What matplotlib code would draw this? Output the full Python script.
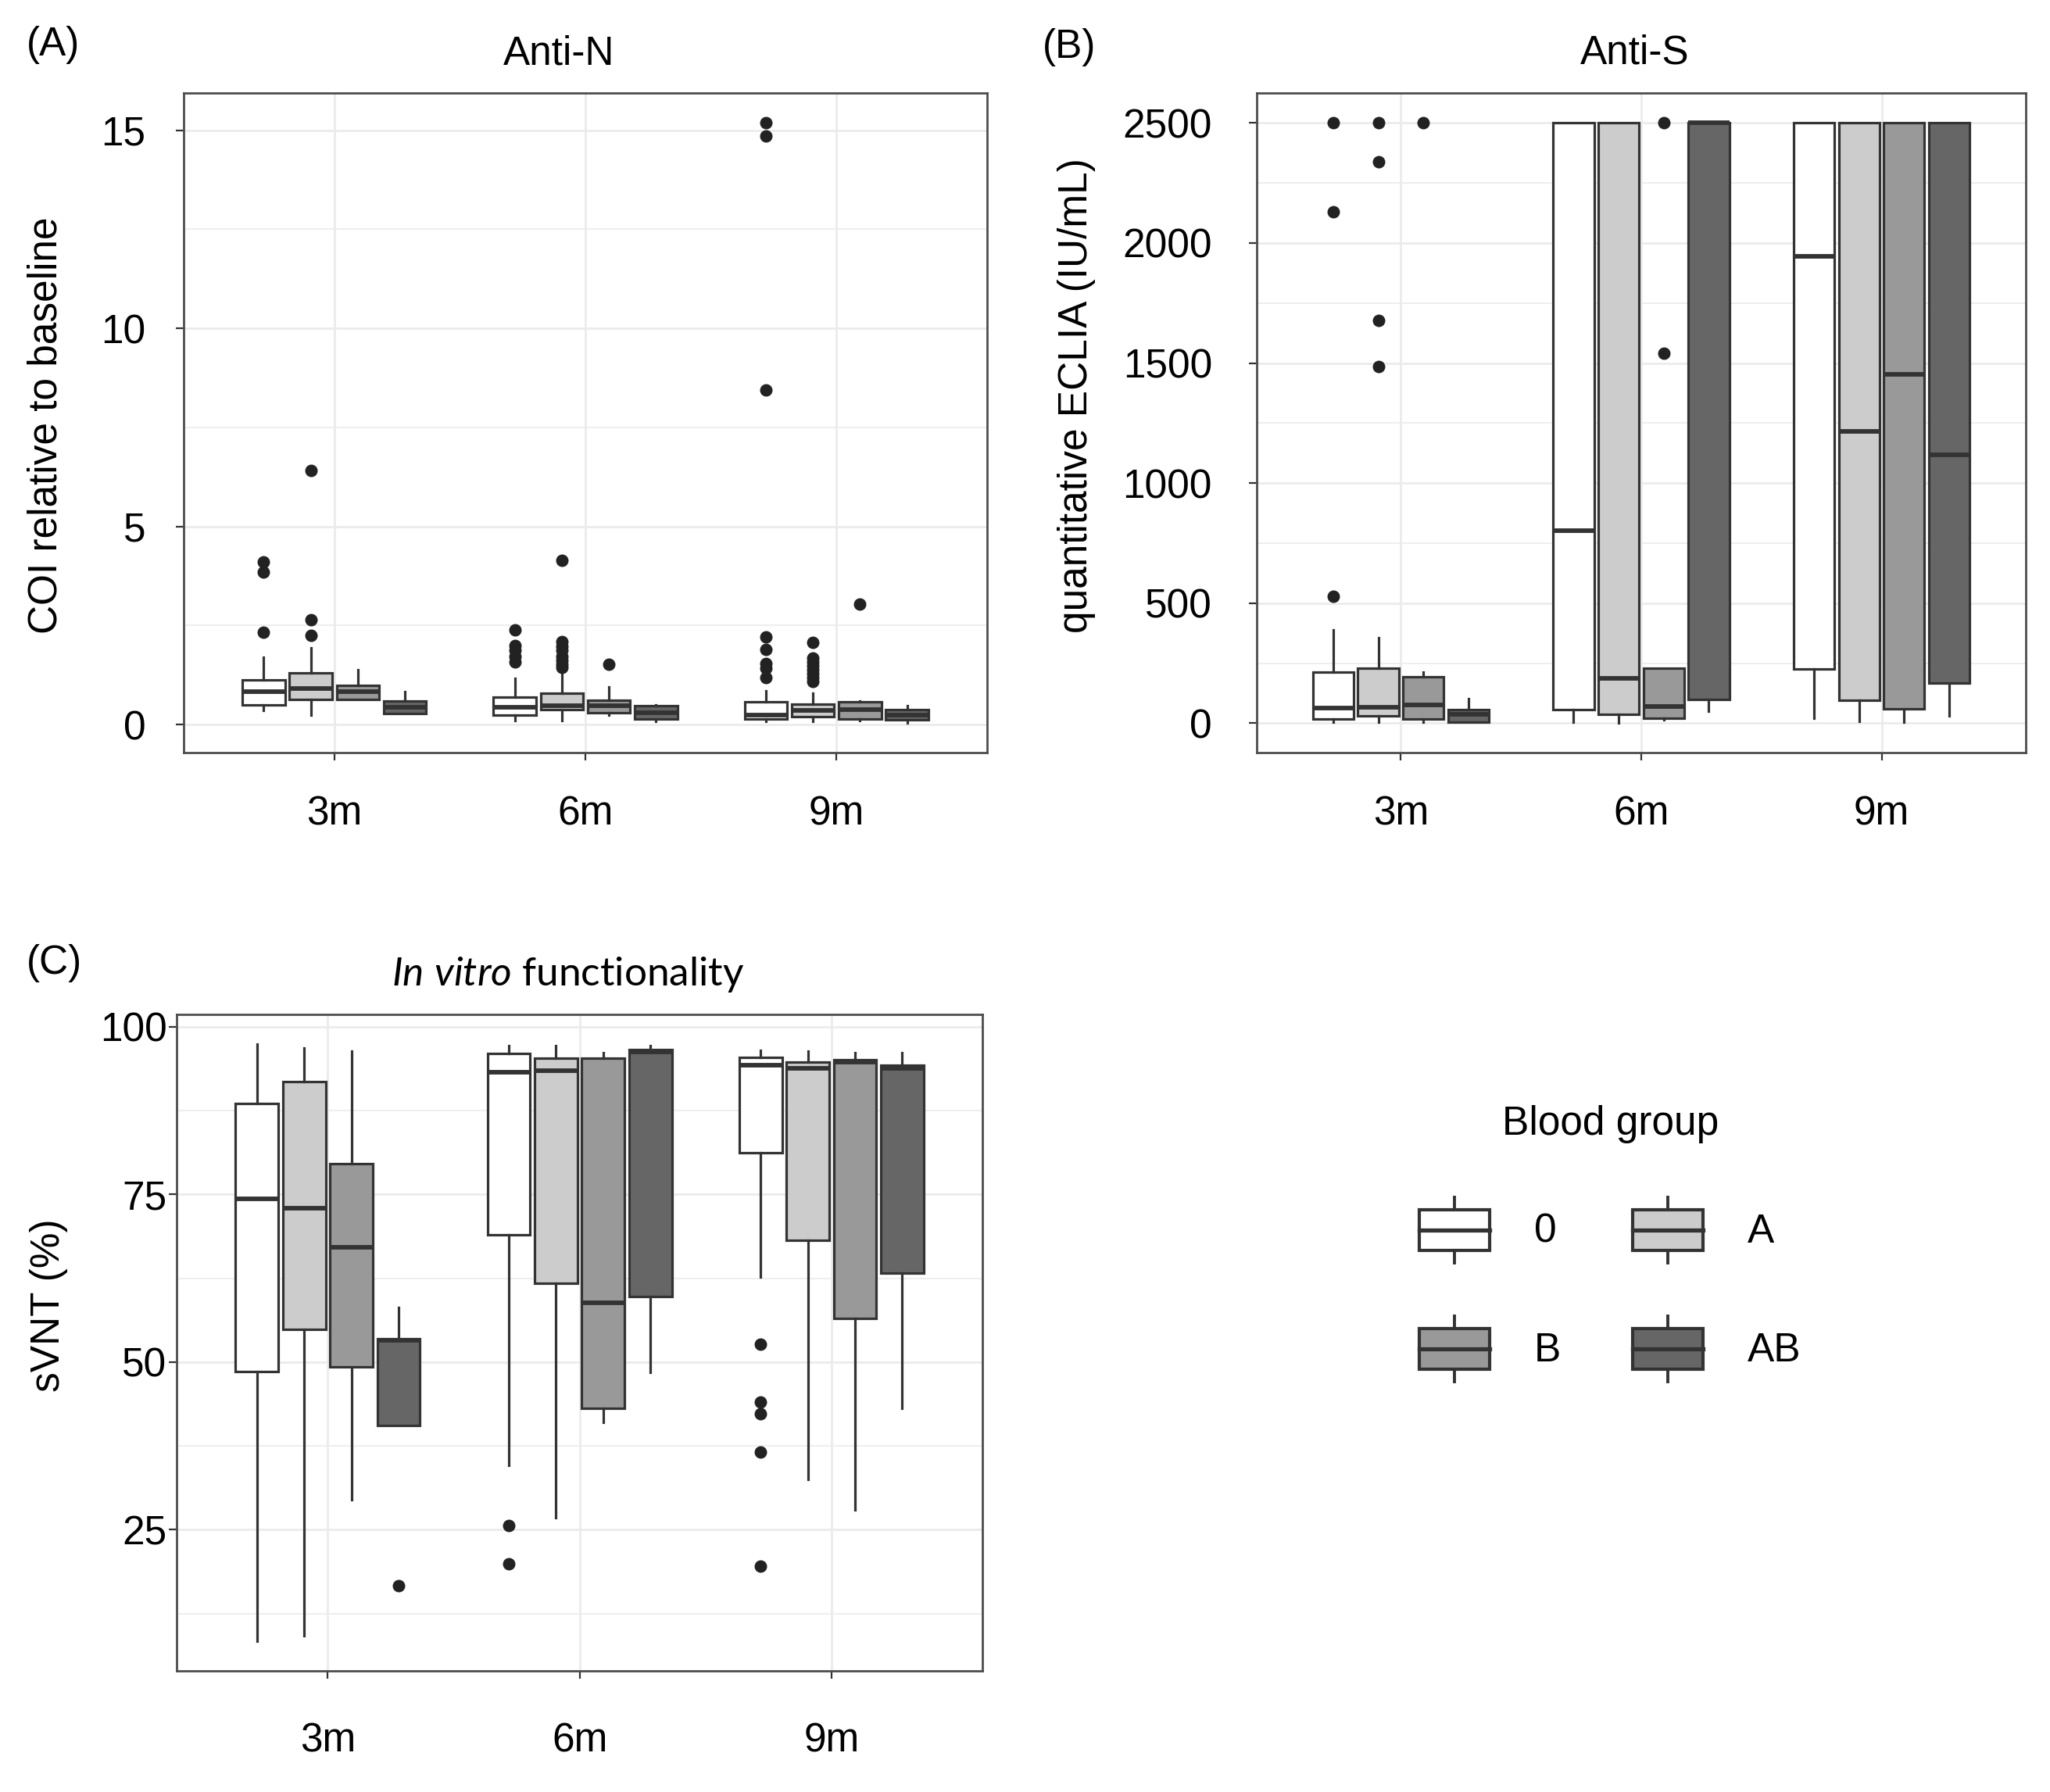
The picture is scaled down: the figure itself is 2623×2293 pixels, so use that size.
import matplotlib
matplotlib.use("Agg")
import matplotlib.pyplot as plt
from matplotlib.patches import Patch, Rectangle
from matplotlib.lines import Line2D
from matplotlib.legend_handler import HandlerBase

plt.rcParams["font.family"] = ["Liberation Sans", "DejaVu Sans"]
plt.rcParams["mathtext.fontset"] = "custom"
plt.rcParams["mathtext.it"] = "Lato:italic"
plt.rcParams["mathtext.rm"] = "Lato"

timepoints = ["3m", "6m", "9m"]
groups = ["0", "A", "B", "AB"]
group_fill = ["#FFFFFF", "#CCCCCC", "#999999", "#666666"]

# Anti-N, COI relative to baseline (rows: timepoint, cols: blood group)
antin_lo = [[0.35, 0.24, 0.64, 0.28], [0.10, 0.10, 0.25, 0.08], [0.08, 0.08, 0.10, 0.05]]
antin_q1 = [[0.50, 0.64, 0.64, 0.28], [0.25, 0.37, 0.31, 0.15], [0.15, 0.20, 0.15, 0.12]]
antin_med = [[0.84, 0.91, 0.83, 0.43], [0.43, 0.48, 0.48, 0.31], [0.25, 0.35, 0.37, 0.25]]
antin_q3 = [[1.12, 1.31, 1.00, 0.59], [0.70, 0.79, 0.61, 0.47], [0.58, 0.52, 0.58, 0.37]]
antin_hi = [[1.71, 1.94, 1.38, 0.84], [1.17, 1.33, 0.96, 0.50], [0.86, 0.80, 0.60, 0.48]]
antin_fliers = [
    [[4.10, 3.85, 2.34], [6.42, 2.64, 2.25], [], []],
    [[2.40, 2.00, 1.88, 1.72, 1.58], [4.15, 2.10, 1.98, 1.88, 1.72, 1.62, 1.52, 1.44], [1.53], []],
    [[15.18, 14.85, 8.45, 2.22, 1.90, 1.55, 1.42, 1.18],
     [2.08, 1.68, 1.58, 1.48, 1.38, 1.28, 1.18, 1.08], [3.04], []],
]

# Anti-S, quantitative ECLIA (IU/mL)
antis_lo = [[4, 4, 4, 5], [5, 2, 15, 49], [22, 9, 4, 31]]
antis_q1 = [[16, 30, 16, 5], [57, 38, 22, 99], [227, 95, 58, 167]]
antis_med = [[64, 66, 77, 38], [802, 187, 68, 2500], [1945, 1216, 1453, 1118]]
antis_q3 = [[214, 229, 192, 55], [2500, 2500, 229, 2500], [2500, 2500, 2500, 2500]]
antis_hi = [[390, 357, 214, 101], [2500, 2500, 229, 2500], [2500, 2500, 2500, 2500]]
antis_fliers = [
    [[2500, 2131, 527], [2500, 2340, 1676, 1485], [2500], []],
    [[], [], [2500, 1540], []],
    [[], [], [], []],
]

# In vitro functionality, sVNT (%)
svnt_lo = [[8.4, 9.2, 29.5, 40.6], [34.6, 26.8, 41.0, 48.5], [62.7, 32.5, 28.0, 43.1]]
svnt_q1 = [[48.6, 54.9, 49.3, 40.6], [69.0, 61.8, 43.1, 59.8], [81.2, 68.2, 56.5, 63.3]]
svnt_med = [[74.4, 72.9, 67.1, 53.2], [93.2, 93.5, 58.9, 96.3], [94.3, 93.8, 94.8, 93.8]]
svnt_q3 = [[88.6, 91.8, 79.6, 53.5], [96.0, 95.3, 95.3, 96.6], [95.4, 94.8, 95.1, 94.3]]
svnt_hi = [[97.4, 96.9, 96.4, 58.2], [97.2, 97.2, 96.2, 97.2], [96.5, 96.4, 96.2, 96.2]]
svnt_fliers = [
    [[], [], [], [16.7]],
    [[25.6, 19.9], [], [], []],
    [[52.7, 44.0, 42.3, 36.6, 19.6], [], [], []],
]

EDGE = "#333333"
FS = 37


def draw_panel(ax, lo, q1, med, q3, hi, fliers, majors, minors):
    for g in range(len(groups)):
        stats = []
        for t in range(len(timepoints)):
            stats.append(dict(whislo=lo[t][g], q1=q1[t][g], med=med[t][g], q3=q3[t][g],
                              whishi=hi[t][g], fliers=fliers[t][g]))
        pos = [t + 1 + (g - 1.5) * 0.1875 for t in range(len(timepoints))]
        ax.bxp(stats, positions=pos, widths=0.17, patch_artist=True, showcaps=False,
               manage_ticks=False,
               boxprops=dict(facecolor=group_fill[g], edgecolor=EDGE, linewidth=2.3),
               medianprops=dict(color=EDGE, linewidth=4.2, solid_capstyle="butt"),
               whiskerprops=dict(color=EDGE, linewidth=2.3),
               flierprops=dict(marker="o", markerfacecolor="#222222", markeredgecolor="#222222",
                               markersize=10.5))
    vals = [v for row in lo + hi for v in row]
    vals += [v for row in fliers for cell in row for v in cell]
    ymin, ymax = min(vals), max(vals)
    r = ymax - ymin
    ax.set_ylim(ymin - 0.05 * r, ymax + 0.05 * r)
    ax.set_xlim(0.4, 3.6)
    ax.set_xticks([1, 2, 3], timepoints)
    ax.set_yticks(majors)
    ax.set_yticks(minors, minor=True)
    ax.set_axisbelow(True)
    ax.grid(True, which="major", color="#EBEBEB", linewidth=2.0)
    ax.grid(True, which="minor", axis="y", color="#EBEBEB", linewidth=1.2)
    for s in ax.spines.values():
        s.set_color("#4D4D4D")
        s.set_linewidth(2.0)
    ax.tick_params(which="major", direction="out", length=7, width=1.6, color="#333333",
                   labelsize=FS, labelcolor="black")
    ax.tick_params(which="minor", length=0)


class BoxKey(HandlerBase):
    def create_artists(self, legend, orig_handle, xdescent, ydescent, width, height, fontsize, trans):
        x0, y0 = -xdescent, -ydescent
        xm = x0 + width / 2
        b0 = y0 + height * 0.19
        b1 = y0 + height * 0.81
        box = Rectangle((x0, b0), width, b1 - b0, facecolor=orig_handle.get_facecolor(),
                        edgecolor=EDGE, linewidth=3.0, transform=trans)
        med = Line2D([x0, x0 + width], [y0 + height / 2] * 2, color=EDGE, lw=3.8, transform=trans)
        wlo = Line2D([xm, xm], [y0, b0], color=EDGE, lw=2.8, transform=trans)
        whi = Line2D([xm, xm], [b1, y0 + height], color=EDGE, lw=2.8, transform=trans)
        return [wlo, whi, box, med]


fig = plt.figure(figsize=(26.23, 22.93), dpi=100)

ax_a = fig.add_axes([0.0896, 0.5800, 0.3919, 0.3681])
draw_panel(ax_a, antin_lo, antin_q1, antin_med, antin_q3, antin_hi, antin_fliers,
           [0, 5, 10, 15], [2.5, 7.5, 12.5])
ax_a.tick_params(axis="y", pad=28)
ax_a.tick_params(axis="x", pad=32)

ax_b = fig.add_axes([0.6130, 0.5800, 0.3752, 0.3681])
draw_panel(ax_b, antis_lo, antis_q1, antis_med, antis_q3, antis_hi, antis_fliers,
           [0, 500, 1000, 1500, 2000, 2500], [250, 750, 1250, 1750, 2250])
ax_b.tick_params(axis="y", pad=34)
ax_b.tick_params(axis="x", pad=32)

ax_c = fig.add_axes([0.0862, 0.0676, 0.3931, 0.3663])
draw_panel(ax_c, svnt_lo, svnt_q1, svnt_med, svnt_q3, svnt_hi, svnt_fliers,
           [25, 50, 75, 100], [12.5, 37.5, 62.5, 87.5])
ax_c.tick_params(axis="y", pad=2)
ax_c.tick_params(axis="x", pad=40)

# panel letters, titles and axis labels
fig.text(0.0259, 0.9751, "(A)", fontsize=FS, ha="center", va="center")
fig.text(0.5215, 0.9738, "(B)", fontsize=FS, ha="center", va="center")
fig.text(0.0263, 0.4623, "(C)", fontsize=FS, ha="center", va="center")

fig.text(0.2726, 0.9699, "Anti-N", fontsize=FS, ha="center", va="center")
fig.text(0.7976, 0.9703, "Anti-S", fontsize=FS, ha="center", va="center")
fig.text(0.2772, 0.4562, r"$\mathit{In\ vitro}$ functionality", fontsize=FS,
         family="Lato", ha="center", va="center")

fig.text(0.0225, 0.7628, "COI relative to baseline", fontsize=FS, rotation=90,
         ha="center", va="center")
fig.text(0.525, 0.7793, "quantitative ECLIA (IU/mL)", fontsize=FS, rotation=90,
         ha="center", va="center")
fig.text(0.024, 0.2717, "sVNT (%)", fontsize=FS, rotation=90, ha="center", va="center")

# legend, rows: 0 A / B AB
order = [0, 2, 1, 3]
handles = [Patch(facecolor=group_fill[i]) for i in order]
labels = [groups[i] for i in order]
fig.legend(handles, labels, handler_map={Patch: BoxKey()}, ncol=2, title="Blood group",
           fontsize=FS, title_fontsize=FS, frameon=False, loc="center",
           bbox_to_anchor=(0.7855, 0.306), handlelength=1.75, handleheight=2.14,
           handletextpad=1.1, columnspacing=1.8, labelspacing=1.33, borderpad=0)

fig.savefig("out.png", dpi=100)
